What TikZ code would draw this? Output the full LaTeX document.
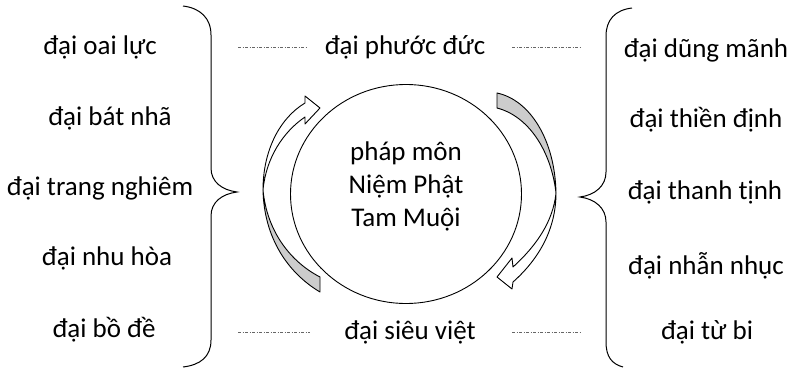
\documentclass[tikz,border=0pt]{standalone}
\usepackage{fontspec}
\setmainfont{Carlito}
\usepackage{tikz}
\usetikzlibrary{calc,shapes.geometric}

\begin{document}
\begin{tikzpicture}[x=1pt,y=-1pt,
  word/.style={font=\fontsize{27}{33}\selectfont,anchor=base,inner sep=0pt},
  bracestroke/.style={line width=1pt,black},
  dotline/.style={line width=0.7pt,gray!80!black,dash pattern=on 3pt off 1.5pt on 1pt off 1.5pt},
  band/.style={line width=0.9pt,line join=round}]
\useasboundingbox (0,0) rectangle (789,369);

% Left column
\node[word] (oai) at (100,55) {đại oai lực};
\node[word] (batnha) at (110,125) {đại bát nhã};
\node[word] (trang) at (100,195) {đại trang nghiêm};
\node[word] (nhu) at (107,265) {đại nhu hòa};
\node[word] (bode) at (104,337) {đại bồ đề};

% Right column
\node[word] (dung) at (706,58) {đại dũng mãnh};
\node[word] (thien) at (706,127) {đại thiền định};
\node[word] (thanh) at (705,199) {đại thanh tịnh};
\node[word] (nhan) at (706,274) {đại nhẫn nhục};
\node[word] (tubi) at (707,339) {đại từ bi};

% Top and bottom
\node[word] (phuoc) at (405,55) {đại phước đức};
\node[word] (sieu) at (410,339) {đại siêu việt};
\coordinate (pl1) at (238,47); \coordinate (pl2) at (308,47);
\coordinate (pr1) at (512,47); \coordinate (pr2) at (582,47);
\coordinate (sl1) at (238,332); \coordinate (sl2) at (310,332);
\coordinate (sr1) at (512,332); \coordinate (sr2) at (582,332);
\draw[dotline] (pl1) -- (pl2);
\draw[dotline] (pr1) -- (pr2);
\draw[dotline] (sl1) -- (sl2);
\draw[dotline] (sr1) -- (sr2);

% Braces
\draw[bracestroke] (183,6) .. controls (200,8) and (211,18) .. (211,35) -- (211,168)
  .. controls (211,182) and (222,190) .. (237,192)
  .. controls (222,194) and (211,202) .. (211,216) -- (211,340)
  .. controls (211,357) and (200,365) .. (183,367);
\draw[bracestroke] (632,8) .. controls (615,10) and (606,20) .. (606,36) -- (606,172)
  .. controls (606,186) and (595,195) .. (580,197)
  .. controls (595,199) and (606,208) .. (606,222) -- (606,342)
  .. controls (606,357) and (612,364) .. (623,367);

% Circle
\node[draw,ellipse,line width=0.9pt,minimum width=231pt,minimum height=219pt,inner sep=0pt] (core) at (406,194) {};
\node[word,anchor=center,align=center] (mon) at (406,186) {pháp môn\\Niệm Phật\\Tam Muội};

% Left arrow
\filldraw[band,fill=gray!40] (320,292) .. controls (288,273) and (264,238) .. (263,190)
  .. controls (267,232) and (291,262) .. (320,277) -- cycle;
\filldraw[band,fill=white] (263,190) .. controls (263,150) and (280,118) .. (305,103)
  -- (305,96) -- (320,108) -- (305,124) -- (305,117)
  .. controls (283,132) and (266,158) .. (263,190) -- cycle;

% Right arrow
\filldraw[band,fill=gray!40] (497,93) .. controls (530,100) and (555,140) .. (556,193)
  .. controls (551,150) and (528,116) .. (497,108) -- cycle;
\filldraw[band,fill=white] (556,193) .. controls (556,228) and (540,258) .. (513,282)
  -- (512,289) -- (497,277) -- (512,258) -- (513,267)
  .. controls (536,246) and (553,222) .. (556,193) -- cycle;
\end{tikzpicture}
\end{document}
